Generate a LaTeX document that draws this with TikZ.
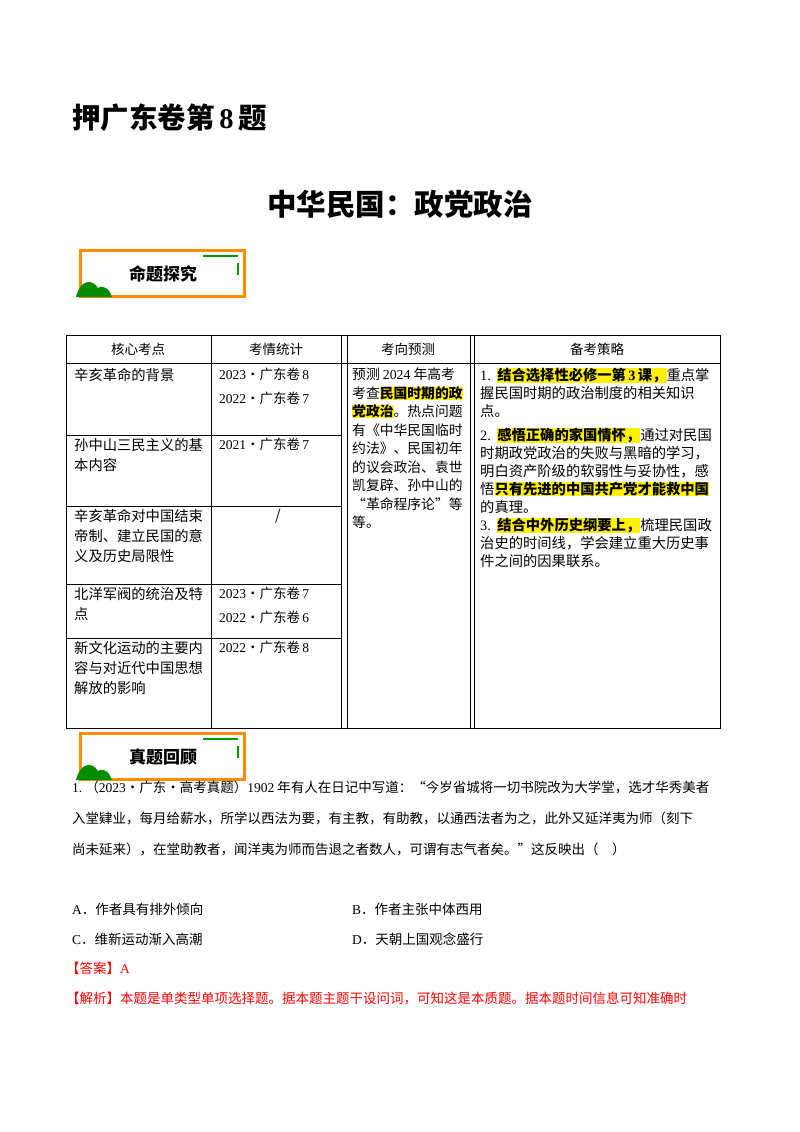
\documentclass[tikz,border=0pt]{standalone}
\usepackage{fontspec}
\setmainfont{Noto Sans CJK SC}
\newfontfamily\latinf{Liberation Serif}
\begin{document}
\begin{tikzpicture}[x=1pt,y=-1pt,
  tl/.style={anchor=north west,inner sep=0pt,font=\fontsize{14.3}{20}\selectfont,align=left},
  ql/.style={anchor=west,inner sep=0pt,font=\fontsize{13.5}{16}\selectfont},
  ]
\useasboundingbox (0,0) rectangle (800,1132);
\setlength{\fboxsep}{0pt}
\node[anchor=west,inner sep=0pt,font=\fontsize{28.5}{32}\selectfont\bfseries] (t1) at (72,118) {押广东卷第\,{\latinf 8}\,题};
\node[inner sep=0pt,font=\fontsize{29.5}{34}\selectfont\bfseries] (t2) at (400,204) {中华民国：政党政治};
% banners
\foreach \y/\txt/\n in {250/命题探究/b1,733/真题回顾/b2}{
  \draw[orange!90!yellow,line width=3pt] (80,\y) rectangle (244,\y+46);
  \node[font=\fontsize{17}{20}\selectfont\bfseries] (\n) at (163,\y+24) {\txt};
  \draw[green!60!black,line width=2pt] (203,\y+6) -- (238,\y+6);
  \draw[green!60!black,line width=2pt] (238,\y+13) -- (238,\y+25);
  \fill[green!55!black] (76,\y+47) .. controls (80,\y+30) and (92,\y+28) .. (98,\y+38) .. controls (104,\y+34) and (110,\y+40) .. (112,\y+47) -- cycle;
}
% table
\draw[line width=0.6pt] (66,335) rectangle (720,728);
\draw (66,363) -- (720,363);
\foreach \x in {211,341,347,470,474} \draw (\x,335) -- (\x,728);
\foreach \y in {435,506,584,638} \draw (66,\y) -- (341,\y);
\node[font=\fontsize{13.5}{15}\selectfont] (h1) at (138,349) {核心考点};
\node[font=\fontsize{13.5}{15}\selectfont] (h2) at (276,349) {考情统计};
\node[font=\fontsize{13.5}{15}\selectfont] (h3) at (408,349) {考向预测};
\node[font=\fontsize{13.5}{15}\selectfont] (h4) at (597,349) {备考策略};
\node[tl] (c1) at (74,368) {辛亥革命的背景};
\node[tl] (c2) at (74,438) {孙中山三民主义的基\\本内容};
\node[tl] (c3) at (74,509) {辛亥革命对中国结束\\帝制、建立民国的意\\义及历史局限性};
\node[tl] (c4) at (74,587) {北洋军阀的统治及特\\点};
\node[tl] (c5) at (74,641) {新文化运动的主要内\\容与对近代中国思想\\解放的影响};
\node[tl,font=\fontsize{13.5}{24}\selectfont] (s1) at (219,368) {{\latinf 2023}·广东卷\,{\latinf 8}\\{\latinf 2022}·广东卷\,{\latinf 7}};
\node[tl,font=\fontsize{13.5}{24}\selectfont] (s2) at (219,438) {{\latinf 2021}·广东卷\,{\latinf 7}};
\node[tl] (s3) at (275,509) {/};
\node[tl,font=\fontsize{13.5}{24}\selectfont] (s4) at (219,587) {{\latinf 2023}·广东卷\,{\latinf 7}\\{\latinf 2022}·广东卷\,{\latinf 6}};
\node[tl,font=\fontsize{13.5}{24}\selectfont] (s5) at (219,641) {{\latinf 2022}·广东卷\,{\latinf 8}};
\node[tl,font=\fontsize{13.8}{18.5}\selectfont] (p) at (352,368) {预测 {\latinf 2024} 年高考\\考查\colorbox{yellow}{\bfseries 民国时期的政}\\\colorbox{yellow}{\bfseries 党政治}。热点问题\\有《中华民国临时\\约法》、民国初年\\的议会政治、袁世\\凯复辟、孙中山的\\“革命程序论”等\\等。};
\node[tl,font=\fontsize{14.3}{18}\selectfont] (r1) at (480,368) {{\latinf 1.}\ \ \colorbox{yellow}{\bfseries 结合选择性必修一第\,{\latinf 3}\,课，}重点掌\\握民国时期的政治制度的相关知识\\点。};
\node[tl,font=\fontsize{14.3}{18}\selectfont] (r2) at (480,428) {{\latinf 2.}\ \ \colorbox{yellow}{\bfseries 感悟正确的家国情怀，}通过对民国\\时期政党政治的失败与黑暗的学习，\\明白资产阶级的软弱性与妥协性，感\\悟\colorbox{yellow}{\bfseries 只有先进的中国共产党才能救中国}\\的真理。};
\node[tl,font=\fontsize{14.3}{18}\selectfont] (r3) at (480,518) {{\latinf 3.}\ \ \colorbox{yellow}{\bfseries 结合中外历史纲要上，}梳理民国政\\治史的时间线，学会建立重大历史事\\件之间的因果联系。};
% question
\node[ql] (q1) at (72,787) {{\latinf 1.}\ （{\latinf 2023}·广东·高考真题）{\latinf 1902} 年有人在日记中写道：“今岁省城将一切书院改为大学堂，选才华秀美者};
\node[ql] (q2) at (72,818) {入堂肄业，每月给薪水，所学以西法为要，有主教，有助教，以通西法者为之，此外又延洋夷为师（刻下};
\node[ql] (q3) at (72,849) {尚未延来），在堂助教者，闻洋夷为师而告退之者数人，可谓有志气者矣。”这反映出（\quad ）};
\node[ql] (oa) at (72,909) {{\latinf A}．作者具有排外倾向};
\node[ql] (ob) at (352,909) {{\latinf B}．作者主张中体西用};
\node[ql] (oc) at (72,939) {{\latinf C}．维新运动渐入高潮};
\node[ql] (od) at (352,939) {{\latinf D}．天朝上国观念盛行};
\node[ql,red] (ans) at (66,968) {【答案】{\latinf A}};
\node[ql,red] (jx) at (66,998) {【解析】本题是单类型单项选择题。据本题主题干设问词，可知这是本质题。据本题时间信息可知准确时};
\end{tikzpicture}
\end{document}
